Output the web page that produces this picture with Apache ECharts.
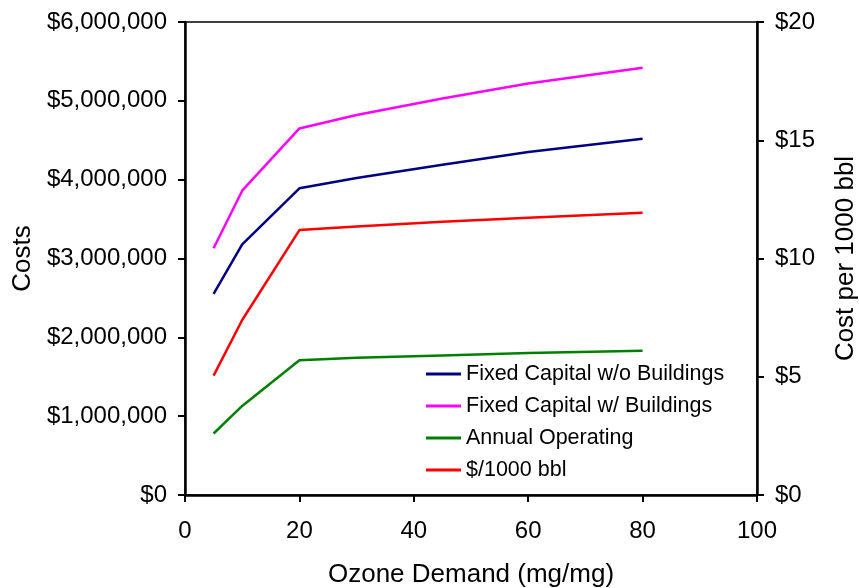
<!DOCTYPE html>
<html>
<head>
<meta charset="utf-8">
<script src="https://cdn.jsdelivr.net/npm/echarts@6/dist/echarts.min.js"></script>
<style>html,body{margin:0;padding:0;background:#fff}#c{width:860px;height:588px}</style>
</head>
<body>
<div id="c"></div>
<script>
const ozone = [5, 10, 20, 30, 45, 60, 80];
const fixedNoBldg = [2550000, 3180000, 3890000, 4020000, 4190000, 4350000, 4520000];
const fixedBldg = [3130000, 3860000, 4650000, 4820000, 5030000, 5220000, 5420000];
const annualOp = [780000, 1130000, 1710000, 1740000, 1770000, 1800000, 1830000];
const perKbbl = [5.05, 7.4, 11.2, 11.35, 11.55, 11.72, 11.93];
const names = ['Fixed Capital w/o Buildings', 'Fixed Capital w/ Buildings', 'Annual Operating', '$/1000 bbl'];
const colors = ['#000080', '#FF00FF', '#008000', '#FF0000'];

const pair = arr => ozone.map((x, i) => [x, arr[i]]);
const FONT = 'Liberation Sans, Arial, sans-serif';

const chart = echarts.init(document.getElementById('c'), null, {renderer: 'canvas'});
const mk = (name, arr, color, yIdx) => ({
  name, type: 'line', yAxisIndex: yIdx, data: pair(arr), showSymbol: false, symbol: 'none',
  lineStyle: {color, width: 2.5}, itemStyle: {color}, animation: false
});
chart.setOption({
  backgroundColor: '#fff',
  textStyle: {fontFamily: FONT},
  grid: {left: 185, right: 103, top: 22, bottom: 93, containLabel: false, outerBoundsMode: 'none',
    show: true, borderColor: '#000', borderWidth: 1.5, backgroundColor: 'transparent'},
  legend: {
    orient: 'vertical', left: 426, top: 363, padding: 0, itemGap: 10,
    icon: 'rect', itemWidth: 35, itemHeight: 3,
    textStyle: {fontSize: 21.5, color: '#000', fontFamily: FONT, padding: [0, 0, 0, 0]},
    itemStyle: {borderWidth: 0},
    data: names
  },
  xAxis: {
    type: 'value', min: 0, max: 100, interval: 20,
    name: 'Ozone Demand (mg/mg)', nameLocation: 'middle', nameGap: 67,
    nameTextStyle: {fontSize: 26, color: '#000', fontFamily: FONT},
    axisLine: {show: true, lineStyle: {color: '#000', width: 2.5}},
    axisTick: {show: true, inside: false, length: 7, lineStyle: {color: '#000', width: 2}},
    axisLabel: {fontSize: 24, color: '#000', margin: 24, fontFamily: FONT},
    splitLine: {show: false}
  },
  yAxis: [{
    type: 'value', min: 0, max: 6000000, interval: 1000000, position: 'left',
    name: 'Costs', nameLocation: 'middle', nameGap: 149, nameRotate: 90,
    nameTextStyle: {fontSize: 26, color: '#000', fontFamily: FONT},
    axisLine: {show: true, lineStyle: {color: '#000', width: 2.5}},
    axisTick: {show: true, inside: false, length: 7, lineStyle: {color: '#000', width: 2}},
    axisLabel: {fontSize: 24, color: '#000', margin: 18, fontFamily: FONT,
      formatter: v => '$' + v.toLocaleString('en-US')},
    splitLine: {show: false}
  }, {
    type: 'value', min: 0, max: 20, interval: 5, position: 'right',
    name: 'Cost per 1000 bbl', nameLocation: 'middle', nameGap: 76, nameRotate: 90,
    nameTextStyle: {fontSize: 26, color: '#000', fontFamily: FONT},
    axisLine: {show: true, lineStyle: {color: '#000', width: 2.5}},
    axisTick: {show: true, inside: false, length: 7, lineStyle: {color: '#000', width: 2}},
    axisLabel: {fontSize: 24, color: '#000', margin: 18, fontFamily: FONT,
      formatter: v => '$' + v},
    splitLine: {show: false}
  }],
  series: [
    mk(names[0], fixedNoBldg, colors[0], 0),
    mk(names[1], fixedBldg, colors[1], 0),
    mk(names[2], annualOp, colors[2], 0),
    mk(names[3], perKbbl, colors[3], 1)
  ]
});
</script>
</body>
</html>
